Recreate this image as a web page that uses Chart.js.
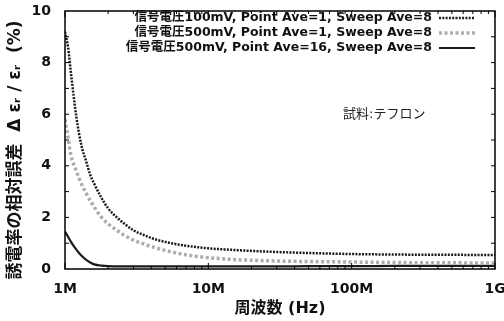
<!DOCTYPE html>
<html>
<head>
<meta charset="utf-8">
<script src="https://cdn.jsdelivr.net/npm/chart.js@4/dist/chart.umd.min.js"></script>
<style>
  html, body { margin: 0; padding: 0; background: #fff; }
</style>
</head>
<body>
<canvas id="chart" width="504" height="321"></canvas>
<script>
// frequencies in MHz
const freqMHz = [1, 1.05, 1.1, 1.2, 1.3, 1.4, 1.5, 1.6, 1.8, 2, 2.3, 2.6, 3, 3.5, 4, 5, 6, 7, 8, 10, 13, 16, 20, 30, 50, 100, 200, 500, 1000];
const err100mV = [9.2, 8.6, 7.6, 5.9, 4.8, 4.2, 3.65, 3.3, 2.75, 2.35, 2.0, 1.75, 1.5, 1.33, 1.2, 1.05, 0.96, 0.9, 0.86, 0.8, 0.76, 0.73, 0.7, 0.66, 0.62, 0.58, 0.56, 0.55, 0.54];
const err500mV = [5.8, 5.1, 4.4, 3.8, 3.3, 2.95, 2.65, 2.4, 2.0, 1.75, 1.5, 1.3, 1.12, 0.98, 0.87, 0.72, 0.62, 0.55, 0.5, 0.44, 0.39, 0.36, 0.34, 0.31, 0.29, 0.27, 0.25, 0.24, 0.23];
const err500mVAvg16 = [1.45, 1.25, 1.05, 0.75, 0.52, 0.36, 0.25, 0.18, 0.13, 0.11, 0.1, 0.1, 0.1, 0.1, 0.1, 0.1, 0.1, 0.1, 0.1, 0.1, 0.1, 0.1, 0.1, 0.1, 0.11, 0.11, 0.12, 0.12, 0.12];

const seriesLabels = [
  '信号電圧100mV, Point Ave=1, Sweep Ave=8',
  '信号電圧500mV, Point Ave=1, Sweep Ave=8',
  '信号電圧500mV, Point Ave=16, Sweep Ave=8'
];
const xTickValues = [1e6, 1e7, 1e8, 1e9];
const xTickLabels = ['1M', '10M', '100M', '1G'];
const xMinorMult = [2, 3, 4, 5, 6, 7, 8, 9];
const yTitle = '誘電率の相対誤差  Δ εᵣ / εᵣ  (%)';
const xTitle = '周波数 (Hz)';
const note = '試料:テフロン';

const FONT = "'DejaVu Sans', 'Noto Sans CJK JP', sans-serif";

const toPoints = (vals) => freqMHz.map((f, i) => ({ x: f * 1e6, y: vals[i] }));

// frame, inward ticks, legend, y title and note
const decoPlugin = {
  id: 'deco',
  afterDraw(chart) {
    const { ctx, chartArea: a, scales: { x, y } } = chart;
    ctx.save();
    ctx.strokeStyle = '#000';
    ctx.lineWidth = 1.5;
    ctx.strokeRect(a.left, a.top, a.right - a.left, a.bottom - a.top);

    ctx.lineWidth = 1;
    ctx.beginPath();
    xTickValues.forEach((d, i) => {
      const px = x.getPixelForValue(d);
      ctx.moveTo(px, a.bottom); ctx.lineTo(px, a.bottom - 6);
      ctx.moveTo(px, a.top); ctx.lineTo(px, a.top + 6);
      if (i < xTickValues.length - 1) {
        xMinorMult.forEach((m) => {
          const mx = x.getPixelForValue(d * m);
          ctx.moveTo(mx, a.bottom); ctx.lineTo(mx, a.bottom - 3);
          ctx.moveTo(mx, a.top); ctx.lineTo(mx, a.top + 3);
        });
      }
    });
    for (let v = y.min + 1; v < y.max; v++) {
      const py = y.getPixelForValue(v);
      ctx.moveTo(a.left, py); ctx.lineTo(a.left + 4, py);
      ctx.moveTo(a.right, py); ctx.lineTo(a.right - 4, py);
    }
    ctx.stroke();

    // legend: text right aligned, sample line on the right
    ctx.font = `bold 12.5px ${FONT}`;
    ctx.textAlign = 'right';
    ctx.textBaseline = 'middle';
    ctx.fillStyle = '#111';
    chart.data.datasets.forEach((ds, i) => {
      const ly = a.top + 7 + i * 15;
      ctx.fillText(ds.label, a.right - 63, ly);
      ctx.save();
      ctx.strokeStyle = ds.borderColor;
      ctx.lineWidth = ds.borderWidth;
      ctx.setLineDash(ds.borderDash || []);
      ctx.beginPath();
      ctx.moveTo(a.right - 56, ly);
      ctx.lineTo(a.right - 20, ly);
      ctx.stroke();
      ctx.restore();
    });

    // note
    ctx.font = `13px ${FONT}`;
    ctx.textAlign = 'left';
    ctx.fillStyle = '#222';
    ctx.fillText(note, 343, 115);

    // y title
    ctx.translate(16, 150);
    ctx.rotate(-Math.PI / 2);
    ctx.font = `bold 17px ${FONT}`;
    ctx.textAlign = 'center';
    ctx.fillStyle = '#111';
    ctx.fillText(yTitle, 0, 0);
    ctx.restore();
  }
};

new Chart(document.getElementById('chart'), {
  type: 'line',
  data: {
    datasets: [
      {
        label: seriesLabels[0],
        data: toPoints(err100mV),
        borderColor: '#1a1a1a',
        borderWidth: 2.5,
        borderDash: [2, 1.3]
      },
      {
        label: seriesLabels[1],
        data: toPoints(err500mV),
        borderColor: '#adadad',
        borderWidth: 3.5,
        borderDash: [3, 2.5]
      },
      {
        label: seriesLabels[2],
        data: toPoints(err500mVAvg16),
        borderColor: '#1a1a1a',
        borderWidth: 2.2
      }
    ]
  },
  options: {
    responsive: false,
    animation: false,
    cubicInterpolationMode: 'monotone',
    layout: { padding: { top: 11, right: 9, left: 0, bottom: 0 } },
    plugins: {
      legend: { display: false },
      tooltip: { enabled: false }
    },
    elements: { point: { radius: 0 } },
    scales: {
      x: {
        type: 'logarithmic',
        min: 1e6,
        max: 1e9,
        grid: { display: false, drawTicks: false },
        border: { display: false },
        afterBuildTicks: (scale) => {
          scale.ticks = xTickValues.map((v) => ({ value: v }));
        },
        afterFit: (scale) => {
          scale.height = 52;
          scale.paddingLeft = 0;
          scale.paddingRight = 0;
        },
        ticks: {
          autoSkip: false,
          maxRotation: 0,
          padding: 12,
          color: '#111',
          font: { family: FONT, size: 14, weight: 'bold' },
          callback: (v) => {
            const i = xTickValues.indexOf(v);
            return i >= 0 ? xTickLabels[i] : '';
          }
        },
        title: {
          display: true,
          text: xTitle,
          color: '#111',
          font: { family: FONT, size: 16, weight: 'bold' },
          padding: { top: 2, bottom: 3 }
        }
      },
      y: {
        min: 0,
        max: 10,
        grid: { display: false, drawTicks: false },
        border: { display: false },
        afterFit: (scale) => {
          scale.width = 65;
          scale.paddingTop = 0;
          scale.paddingBottom = 0;
        },
        ticks: {
          stepSize: 2,
          padding: 14,
          color: '#111',
          font: { family: FONT, size: 14, weight: 'bold' }
        }
      }
    }
  },
  plugins: [decoPlugin]
});
</script>
</body>
</html>
